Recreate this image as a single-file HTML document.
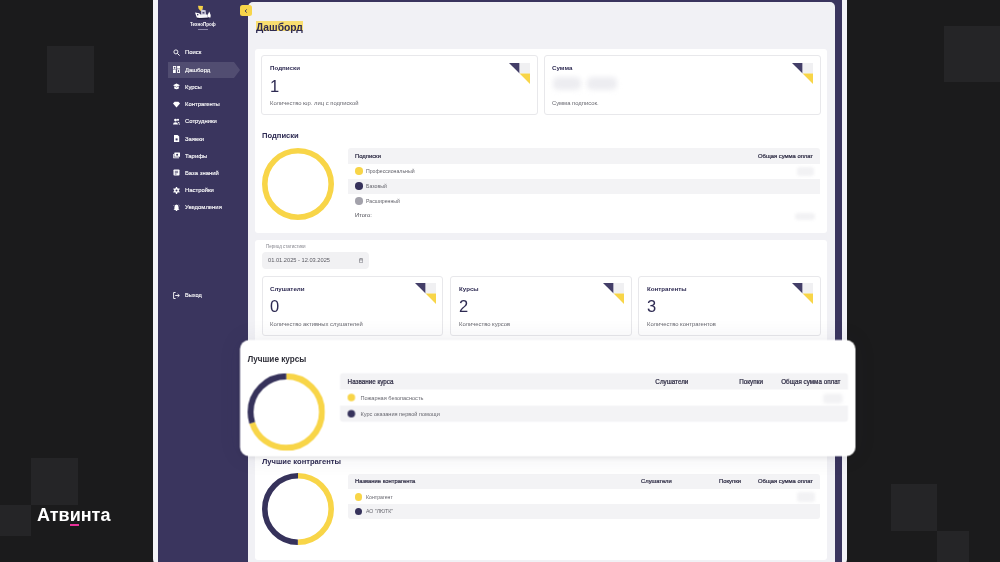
<!DOCTYPE html>
<html><head><meta charset="utf-8"><style>
*{margin:0;padding:0;box-sizing:border-box}
html,body{width:1000px;height:562px;overflow:hidden;background:#1b1b1c;font-family:"Liberation Sans",sans-serif;-webkit-font-smoothing:antialiased;will-change:transform}
.a{position:absolute}
.sq{position:absolute;background:#252527}
.t{position:absolute;white-space:nowrap;line-height:1;-webkit-font-smoothing:antialiased;will-change:transform}
#frame{left:153px;top:-6px;width:694px;height:572px;background:#f3f3f7;border-radius:7px}
#navy{left:158px;top:-6px;width:684px;height:572px;background:#3a355e;border-radius:5px}
#main{left:247.5px;top:1.5px;width:587.5px;height:580px;background:#f1f1f5;border-radius:5px 5px 0 0}
.panel{position:absolute;background:#fff;border-radius:3px}
.card{position:absolute;background:#fff;border:0.8px solid #e8e8eb;border-radius:3px}
</style></head><body>
<div class="sq" style="left:47px;top:46px;width:47px;height:47px"></div>
<div class="sq" style="left:944px;top:25.5px;width:56px;height:56px"></div>
<div class="sq" style="left:31px;top:458px;width:46.5px;height:46.5px"></div>
<div class="sq" style="left:0px;top:504.5px;width:31px;height:31px"></div>
<div class="sq" style="left:890.5px;top:484px;width:46.5px;height:46.5px"></div>
<div class="sq" style="left:937px;top:530.5px;width:32px;height:32px"></div>
<div class="t" style="left:37px;top:506px;font-size:18px;color:#fff;font-weight:bold;">Атвинта</div>
<div class="a" style="left:69.6px;top:523.6px;width:9.4px;height:2.1px;background:#e8319a"></div>
<div class="a" id="frame"></div><div class="a" id="navy"></div><div class="a" id="main"></div>
<svg class="a" style="left:168px;top:61.8px" width="73" height="16" viewBox="0 0 73 16"><path d="M0 0H66L72 8L66 16H0Z" fill="#fff" fill-opacity="0.12"/></svg>
<svg class="a" style="left:193px;top:4px" width="20" height="17" viewBox="193 4 20 17">
<path d="M198 5.8L203 6.1L202.6 9.3L200.6 11L198.6 8.8Z" fill="#f5d146"/>
<path d="M201 9.6L205.6 10.2L206.2 15L201.2 15.2Z" fill="#c9c8da"/>
<path d="M195 12.6L199.2 13.2L201.5 15.6L200 18.1L196.8 17.4Z" fill="#fff"/>
<path d="M199.5 14.8L207.6 14.6L207.8 17.6L200.2 18Z" fill="#f4f4f8"/>
<path d="M209.2 11.6Q211.2 14.8 210.5 17.4Q208.4 17.8 207.6 16.2Q208 13.8 209.2 11.6Z" fill="#fff"/>
<path d="M197 13.8L198.5 14.2L198.2 15.6L197 15.2Z" fill="#3a355e"/>
<path d="M202.5 12L204.5 12.2L204.4 13.6L202.6 13.5Z" fill="#3a355e"/>
<path d="M197 18.1H208.6V19.3H197Z" fill="#1f1c3c"/>
</svg>
<div class="t" style="left:190px;top:23px;font-size:4.5px;color:#fff;font-weight:bold;">ТехноПроф</div>
<div class="a" style="left:197.5px;top:28.7px;width:10.5px;height:0.7px;background:#8d8aaa"></div>
<svg class="a" style="left:173px;top:48.5px" width="7" height="7" viewBox="0 0 7 7"><circle cx="2.9" cy="2.9" r="2" fill="none" stroke="#fff" stroke-width="0.9"/><path d="M4.4 4.4L6.6 6.6" stroke="#fff" stroke-width="1"/></svg>
<div class="t" style="left:185px;top:50px;font-size:5.9px;color:#fff;-webkit-text-stroke:0.12px #fff">Поиск</div>
<svg class="a" style="left:173px;top:66.1px" width="7" height="7" viewBox="0 0 7 7"><rect x="0.45" y="0.45" width="2.3" height="2.6" fill="none" stroke="#fff" stroke-width="0.9"/><rect x="0" y="3.9" width="2.8" height="3.1" fill="#fff"/><rect x="4.1" y="0" width="2.9" height="2.6" fill="#fff"/><rect x="4.55" y="3.65" width="2" height="2.9" fill="none" stroke="#fff" stroke-width="0.9"/></svg>
<div class="t" style="left:185px;top:68px;font-size:5.9px;color:#fff;-webkit-text-stroke:0.12px #fff">Дашборд</div>
<svg class="a" style="left:173px;top:83.4px" width="7" height="7" viewBox="0 0 7 7"><path d="M3.5 0.6L7 2.3L3.5 4L0 2.3Z" fill="#fff"/><path d="M1.2 3.3V5.4Q3.5 7 5.8 5.4V3.3L3.5 4.5Z" fill="#fff"/></svg>
<div class="t" style="left:185px;top:85px;font-size:5.9px;color:#fff;-webkit-text-stroke:0.12px #fff">Курсы</div>
<svg class="a" style="left:173px;top:100.7px" width="7" height="7" viewBox="0 0 7 7"><path d="M1.6 0.8H5.4L7 2.6L3.5 6.6L0 2.6Z" fill="#fff"/></svg>
<div class="t" style="left:185px;top:102px;font-size:5.9px;color:#fff;-webkit-text-stroke:0.12px #fff">Контрагенты</div>
<svg class="a" style="left:173px;top:117.8px" width="7" height="7" viewBox="0 0 7 7"><circle cx="2.5" cy="2.1" r="1.4" fill="#fff"/><path d="M0 6.6Q0 4.3 2.5 4.3Q5 4.3 5 6.6Z" fill="#fff"/><circle cx="5" cy="1.8" r="1.1" fill="#fff"/><path d="M4.6 3.7Q6.6 3.6 6.8 5.2H5.4Z" fill="#fff"/><circle cx="6.3" cy="6.1" r="0.7" fill="#fff"/></svg>
<div class="t" style="left:185px;top:119px;font-size:5.9px;color:#fff;-webkit-text-stroke:0.12px #fff">Сотрудники</div>
<svg class="a" style="left:173px;top:135.1px" width="7" height="7" viewBox="0 0 7 7"><path d="M1 0H4.6L6.2 1.6V7H1Z" fill="#fff"/><rect x="2.6" y="3.4" width="2" height="2" fill="#3a355e"/></svg>
<div class="t" style="left:185px;top:137px;font-size:5.9px;color:#fff;-webkit-text-stroke:0.12px #fff">Заявки</div>
<svg class="a" style="left:173px;top:152.1px" width="7" height="7" viewBox="0 0 7 7"><rect x="1.3" y="0.6" width="5.7" height="4.2" rx="0.5" fill="#fff"/><circle cx="4.1" cy="2.7" r="1" fill="#3a355e"/><path d="M0.3 2V5.8H6" fill="none" stroke="#fff" stroke-width="0.9"/></svg>
<div class="t" style="left:185px;top:154px;font-size:5.9px;color:#fff;-webkit-text-stroke:0.12px #fff">Тарифы</div>
<svg class="a" style="left:173px;top:169.3px" width="7" height="7" viewBox="0 0 7 7"><rect x="0.5" y="0.5" width="6" height="6" rx="0.8" fill="#fff"/><path d="M1.8 2.3H5.1M1.8 3.7H5.1M1.8 5.1H3.5" stroke="#3a355e" stroke-width="0.7"/></svg>
<div class="t" style="left:185px;top:171px;font-size:5.9px;color:#fff;-webkit-text-stroke:0.12px #fff">База знаний</div>
<svg class="a" style="left:173px;top:186.5px" width="7" height="7" viewBox="0 0 7 7"><circle cx="3.5" cy="3.5" r="2.4" fill="#fff"/><g stroke="#fff" stroke-width="1.4"><path d="M3.5 0V7M0.5 1.75L6.5 5.25M0.5 5.25L6.5 1.75"/></g><circle cx="3.5" cy="3.5" r="1" fill="#3a355e"/></svg>
<div class="t" style="left:185px;top:188px;font-size:5.9px;color:#fff;-webkit-text-stroke:0.12px #fff">Настройки</div>
<svg class="a" style="left:173px;top:203.8px" width="7" height="7" viewBox="0 0 7 7"><path d="M3.5 0.6Q5.6 0.8 5.6 3.4V5.2L6.6 6H0.4L1.4 5.2V3.4Q1.4 0.8 3.5 0.6Z" fill="#fff"/><circle cx="3.5" cy="6.5" r="0.8" fill="#fff"/><path d="M0.5 1.8L1.3 1M6.5 1.8L5.7 1" stroke="#fff" stroke-width="0.6"/></svg>
<div class="t" style="left:185px;top:205px;font-size:5.9px;color:#fff;-webkit-text-stroke:0.12px #fff">Уведомления</div>
<svg class="a" style="left:173.2px;top:292px" width="7" height="7" viewBox="0 0 7 7"><path d="M2.6 0.5H0.6V6.5H2.6" fill="none" stroke="#fff" stroke-width="0.9"/><path d="M2.2 3.5H6.2M4.6 2L6.3 3.5L4.6 5" fill="none" stroke="#fff" stroke-width="0.9"/></svg>
<div class="t" style="left:185.2px;top:293px;font-size:5.6px;color:#fff;-webkit-text-stroke:0.12px #fff">Выход</div>
<div class="a" style="left:240px;top:5px;width:12.00px;height:11.20px;background:#f7d54a;border-radius:2.5px"></div>
<svg class="a" style="left:244px;top:8.5px" width="4" height="4" viewBox="0 0 4 4"><path d="M2.8 0.4L1 2L2.8 3.6" fill="none" stroke="#3a355e" stroke-width="0.9"/></svg>
<div class="a" style="left:256px;top:21px;width:47.00px;height:10.00px;background:#f9dc62;opacity:.9"></div>
<div class="t" style="left:256px;top:23px;font-size:10.3px;color:#2d2a52;font-weight:bold;">Дашборд</div>
<div class="a" style="left:255px;top:48.8px;width:572.00px;height:184.50px;background:#fff;border-radius:3px"></div>
<div class="card" style="left:261.3px;top:54.9px;width:276.3px;height:59.9px"></div>
<svg class="a" style="left:508.8px;top:62.8px" width="21.2" height="21.2" viewBox="0 0 2 2"><path d="M0 0H1V1Z" fill="#433e68"/><rect x="1" y="0" width="1" height="1" fill="#f0f0f2"/><path d="M1 1H2V2Z" fill="#f8d548"/></svg>
<div class="t" style="left:270px;top:65px;font-size:6.2px;color:#2d2a52;font-weight:bold;">Подписки</div>
<div class="t" style="left:270px;top:78px;font-size:16.5px;color:#2d2a52;">1</div>
<div class="t" style="left:270px;top:101px;font-size:5.86px;color:#67676f;">Количество юр. лиц с подпиской</div>
<div class="card" style="left:544.4px;top:54.9px;width:276.2px;height:59.9px"></div>
<svg class="a" style="left:791.6px;top:62.8px" width="21.2" height="21.2" viewBox="0 0 2 2"><path d="M0 0H1V1Z" fill="#433e68"/><rect x="1" y="0" width="1" height="1" fill="#f0f0f2"/><path d="M1 1H2V2Z" fill="#f8d548"/></svg>
<div class="t" style="left:552px;top:65px;font-size:6.2px;color:#2d2a52;font-weight:bold;">Сумма</div>
<div class="a" style="left:553px;top:77px;width:28px;height:13px;background:#ededf1;border-radius:5px;filter:blur(2.6px)"></div>
<div class="a" style="left:587px;top:77px;width:30px;height:13px;background:#ededf1;border-radius:5px;filter:blur(2.6px)"></div>
<div class="a" style="left:797px;top:166.5px;width:17px;height:9.0px;background:#f2f2f4;border-radius:3px;filter:blur(1.5px)"></div>
<div class="a" style="left:795px;top:212.5px;width:20px;height:7.0px;background:#f2f2f4;border-radius:3px;filter:blur(1.5px)"></div>
<div class="t" style="left:552px;top:101px;font-size:5.86px;color:#67676f;">Сумма подписок.</div>
<div class="t" style="left:262.3px;top:132px;font-size:7.6px;color:#2d2a52;font-weight:bold;">Подписки</div>
<svg class="a" style="left:262px;top:148px" width="72" height="72" viewBox="0 0 72 72"><circle cx="36" cy="36" r="33.2" fill="none" stroke="#f8d548" stroke-width="5.6" stroke-dasharray="208.602 208.602" stroke-dashoffset="0.000" transform="rotate(-90 36 36)"/></svg>
<div class="a" style="left:348px;top:148.1px;width:472.00px;height:15.60px;background:#f3f3f5;border-radius:3px 3px 0 0"></div>
<div class="t" style="left:355.1px;top:154px;font-size:5.85px;color:#302e46;-webkit-text-stroke:0.22px #302e46">Подписки</div>
<div class="t" style="right:187.39999999999998px;top:154px;font-size:5.85px;color:#302e46;-webkit-text-stroke:0.22px #302e46">Общая сумма оплат</div>
<div class="a" style="left:355.05px;top:167.45px;width:7.5px;height:7.5px;border-radius:50%;background:#f8d548"></div>
<div class="t" style="left:366.3px;top:169px;font-size:5.2px;color:#66666e;">Профессиональный</div>
<div class="a" style="left:348px;top:178.7px;width:472.00px;height:15.00px;background:#f3f3f5;"></div>
<div class="a" style="left:355.05px;top:182.45px;width:7.5px;height:7.5px;border-radius:50%;background:#36325b"></div>
<div class="t" style="left:366.3px;top:184px;font-size:5.2px;color:#66666e;">Базовый</div>
<div class="a" style="left:355.05px;top:197.45px;width:7.5px;height:7.5px;border-radius:50%;background:#a3a2ab"></div>
<div class="t" style="left:366.3px;top:199px;font-size:5.2px;color:#66666e;">Расширенный</div>
<div class="t" style="left:355.1px;top:213px;font-size:5.8px;color:#4a4a52;">Итого:</div>
<div class="a" style="left:255px;top:240px;width:572.00px;height:105.00px;background:#fff;border-radius:3px"></div>
<div class="t" style="left:266.3px;top:245px;font-size:4.5px;color:#85858d;">Период статистики</div>
<div class="a" style="left:262px;top:251.5px;width:107.40px;height:17.30px;background:#f1f1f3;border-radius:4px"></div>
<div class="t" style="left:268.2px;top:258px;font-size:5.7px;color:#5a5a62;">01.01.2025 - 12.03.2025</div>
<svg class="a" style="left:358.8px;top:257.8px" width="4.2" height="5.2" viewBox="0 0 4.2 5.2"><rect x="0.4" y="0.8" width="3.4" height="4" rx="0.5" fill="none" stroke="#77777f" stroke-width="0.7"/><path d="M0.4 2H3.8" stroke="#77777f" stroke-width="0.6"/><path d="M1.3 0V1.2M2.9 0V1.2" stroke="#77777f" stroke-width="0.6"/></svg>
<div class="card" style="left:261.5px;top:276.2px;width:181.7px;height:59.5px"></div>
<svg class="a" style="left:414.8px;top:283.2px" width="21.2" height="21.2" viewBox="0 0 2 2"><path d="M0 0H1V1Z" fill="#433e68"/><rect x="1" y="0" width="1" height="1" fill="#f0f0f2"/><path d="M1 1H2V2Z" fill="#f8d548"/></svg>
<div class="t" style="left:270.0px;top:286px;font-size:6.2px;color:#2d2a52;font-weight:bold;">Слушатели</div>
<div class="t" style="left:270.0px;top:298px;font-size:16.5px;color:#2d2a52;">0</div>
<div class="t" style="left:270.0px;top:322px;font-size:5.86px;color:#67676f;">Количество активных слушателей</div>
<div class="card" style="left:450.0px;top:276.2px;width:181.6px;height:59.5px"></div>
<svg class="a" style="left:603.2px;top:283.2px" width="21.2" height="21.2" viewBox="0 0 2 2"><path d="M0 0H1V1Z" fill="#433e68"/><rect x="1" y="0" width="1" height="1" fill="#f0f0f2"/><path d="M1 1H2V2Z" fill="#f8d548"/></svg>
<div class="t" style="left:458.5px;top:286px;font-size:6.2px;color:#2d2a52;font-weight:bold;">Курсы</div>
<div class="t" style="left:458.5px;top:298px;font-size:16.5px;color:#2d2a52;">2</div>
<div class="t" style="left:458.5px;top:322px;font-size:5.86px;color:#67676f;">Количество курсов</div>
<div class="card" style="left:638.2px;top:276.2px;width:182.4px;height:59.5px"></div>
<svg class="a" style="left:792.2px;top:283.2px" width="21.2" height="21.2" viewBox="0 0 2 2"><path d="M0 0H1V1Z" fill="#433e68"/><rect x="1" y="0" width="1" height="1" fill="#f0f0f2"/><path d="M1 1H2V2Z" fill="#f8d548"/></svg>
<div class="t" style="left:646.7px;top:286px;font-size:6.2px;color:#2d2a52;font-weight:bold;">Контрагенты</div>
<div class="t" style="left:646.7px;top:298px;font-size:16.5px;color:#2d2a52;">3</div>
<div class="t" style="left:646.7px;top:322px;font-size:5.86px;color:#67676f;">Количество контрагентов</div>
<div class="a" style="left:255px;top:443px;width:572.00px;height:116.60px;background:#fff;border-radius:3px"></div>
<div class="t" style="left:262px;top:458px;font-size:7.6px;color:#2d2a52;font-weight:bold;">Лучшие контрагенты</div>
<svg class="a" style="left:261.9px;top:473.4px" width="72" height="72" viewBox="0 0 72 72"><circle cx="36" cy="36" r="33.2" fill="none" stroke="#f8d548" stroke-width="5.6" stroke-dasharray="104.301 208.602" stroke-dashoffset="0.000" transform="rotate(-90 36 36)"/><circle cx="36" cy="36" r="33.2" fill="none" stroke="#36325b" stroke-width="5.6" stroke-dasharray="104.301 208.602" stroke-dashoffset="-104.301" transform="rotate(-90 36 36)"/></svg>
<div class="a" style="left:348.4px;top:474px;width:471.60px;height:15.00px;background:#f3f3f5;border-radius:3px 3px 0 0"></div>
<div class="t" style="left:355.1px;top:479px;font-size:5.85px;color:#302e46;-webkit-text-stroke:0.22px #302e46">Название контрагента</div>
<div class="t" style="left:641.4px;top:479px;font-size:5.85px;color:#302e46;-webkit-text-stroke:0.22px #302e46">Слушатели</div>
<div class="t" style="left:718.7px;top:479px;font-size:5.85px;color:#302e46;-webkit-text-stroke:0.22px #302e46">Покупки</div>
<div class="t" style="right:187.10000000000002px;top:479px;font-size:5.85px;color:#302e46;-webkit-text-stroke:0.22px #302e46">Общая сумма оплат</div>
<div class="a" style="left:797px;top:492px;width:18px;height:9.5px;background:#f2f2f4;border-radius:3px;filter:blur(1.5px)"></div>
<div class="a" style="left:354.90000000000003px;top:493.3px;width:7.4px;height:7.4px;border-radius:50%;background:#f8d548"></div>
<div class="t" style="left:366px;top:495px;font-size:5.2px;color:#66666e;">Контрагент</div>
<div class="a" style="left:348.4px;top:504.3px;width:471.60px;height:14.30px;background:#f3f3f5;border-radius:0 0 3px 3px"></div>
<div class="a" style="left:354.90000000000003px;top:507.6px;width:7.4px;height:7.4px;border-radius:50%;background:#36325b"></div>
<div class="t" style="left:366px;top:509px;font-size:5.2px;color:#66666e;">АО "ЛЮТК"</div>
<div class="a" style="left:240px;top:339.7px;width:572px;height:108.2px;background:#fff;border-radius:8.4px;transform:scale(1.076);transform-origin:0 0;box-shadow:0 1.5px 4px rgba(0,0,0,0.06),0 0 22px rgba(40,40,80,0.09)"><div class="t" style="left:7px;top:14.399999999999999px;font-size:7.6px;color:#2e2e38;font-weight:bold;">Лучшие курсы</div>
<svg class="a" style="left:6.700000000000003px;top:30.599999999999994px" width="72" height="72" viewBox="0 0 72 72"><circle cx="36" cy="36" r="33.2" fill="none" stroke="#f8d548" stroke-width="5.6" stroke-dasharray="146.021 208.602" stroke-dashoffset="0.000" transform="rotate(-90 36 36)"/><circle cx="36" cy="36" r="33.2" fill="none" stroke="#36325b" stroke-width="5.6" stroke-dasharray="62.581 208.602" stroke-dashoffset="-146.021" transform="rotate(-90 36 36)"/></svg>
<div class="a" style="left:93.4px;top:31px;width:472.10px;height:15.40px;background:#f3f3f5;border-radius:3px 3px 0 0"></div>
<div class="t" style="left:100px;top:36.5px;font-size:5.85px;color:#302e46;-webkit-text-stroke:0.22px #302e46">Название курса</div>
<div class="t" style="left:386.4px;top:36.5px;font-size:5.85px;color:#302e46;-webkit-text-stroke:0.22px #302e46">Слушатели</div>
<div class="t" style="left:463.7px;top:36.5px;font-size:5.85px;color:#302e46;-webkit-text-stroke:0.22px #302e46">Покупки</div>
<div class="t" style="right:14.10px;top:36.5px;font-size:5.85px;color:#302e46;-webkit-text-stroke:0.22px #302e46">Общая сумма оплат</div>
<div class="a" style="left:541.5px;top:49.5px;width:18.0px;height:9.0px;background:#f2f2f4;border-radius:3px;filter:blur(1.5px)"></div>
<div class="a" style="left:100.05px;top:50.15px;width:7.3px;height:7.3px;border-radius:50%;background:#f8d548"></div>
<div class="t" style="left:111.5px;top:52px;font-size:5.2px;color:#66666e;">Пожарная безопасность</div>
<div class="a" style="left:93.4px;top:61.3px;width:472.10px;height:14.70px;background:#f3f3f5;border-radius:0 0 3px 3px"></div>
<div class="a" style="left:100.05px;top:65.05px;width:7.3px;height:7.3px;border-radius:50%;background:#36325b"></div>
<div class="t" style="left:111.5px;top:67px;font-size:5.2px;color:#66666e;">Курс оказания первой помощи</div></div>
</body></html>
